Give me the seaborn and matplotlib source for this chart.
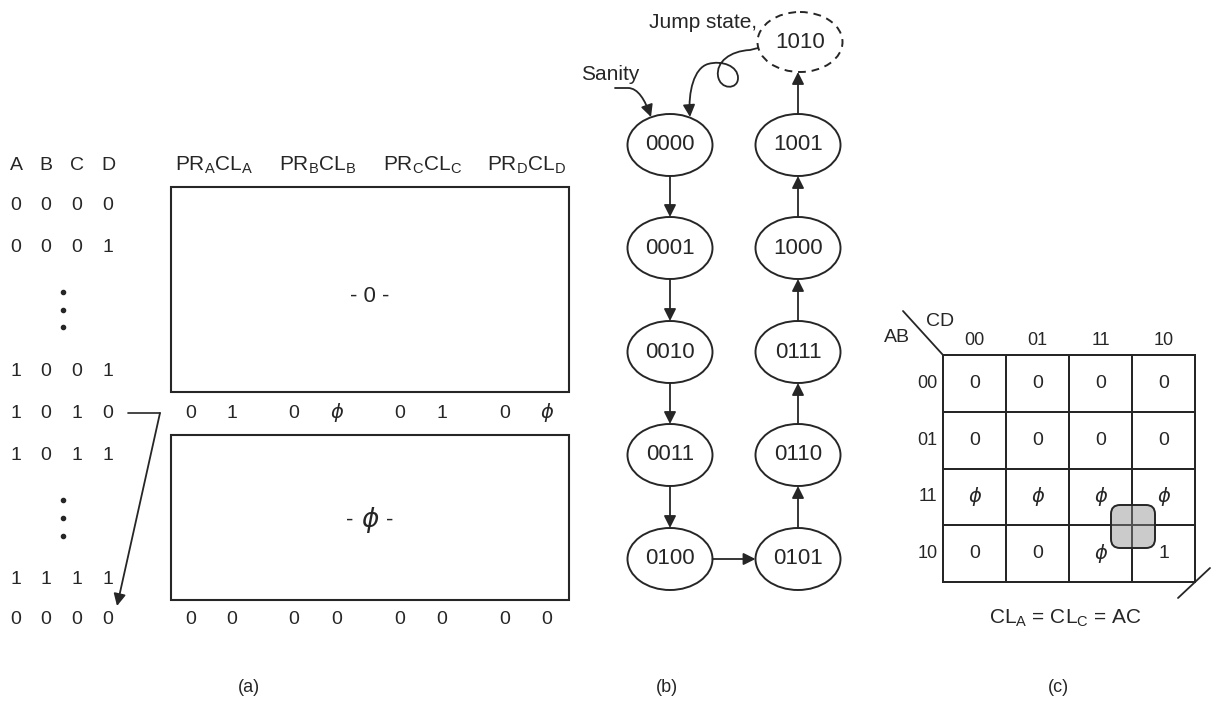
import numpy as np
import matplotlib.pyplot as plt
import seaborn as sns
from matplotlib.colors import ListedColormap
from matplotlib.patches import Rectangle, Ellipse, FancyBboxPatch, FancyArrowPatch
from matplotlib.path import Path

# ---- data ----
abcd_header = ["A", "B", "C", "D"]
abcd_rows_top = ["0000", "0001"]
abcd_rows_mid = ["1001", "1010", "1011"]
abcd_rows_bot = ["1111", "0000"]
ff_names = ["A", "B", "C", "D"]
row_1010_vals = ["0", "1", "0", "ϕ", "0", "1", "0", "ϕ"]
row_last_vals = ["0", "0", "0", "0", "0", "0", "0", "0"]
box_fill_top = "0"
box_fill_bot = "ϕ"

states_left = ["0000", "0001", "0010", "0011", "0100"]
states_right = ["1001", "1000", "0111", "0110", "0101"]
jump_state = "1010"

kmap_cols = ["00", "01", "11", "10"]
kmap_rows = ["00", "01", "11", "10"]
kmap_vals = [["0", "0", "0", "0"],
             ["0", "0", "0", "0"],
             ["ϕ", "ϕ", "ϕ", "ϕ"],
             ["0", "0", "ϕ", "1"]]

W, H = 1214, 701
INK = "#262626"

sns.set_theme(style="white")
plt.rcParams['font.family'] = ['Liberation Sans', 'DejaVu Sans']
plt.rcParams['mathtext.fontset'] = 'custom'
plt.rcParams['mathtext.rm'] = 'Liberation Sans'
plt.rcParams['mathtext.it'] = 'Liberation Sans:italic'

fig = plt.figure(figsize=(W / 100, H / 100), dpi=100)
ax = fig.add_axes([0, 0, 1, 1])
ax.set_xlim(0, W)
ax.set_ylim(H, 0)
ax.axis('off')


def txt(x, y, s, size=14, **kw):
    if s == "ϕ":
        kw.setdefault('family', ['DejaVu Sans'])
        kw.setdefault('style', 'italic')
    ax.text(x, y, s, ha='center', va='center', fontsize=size, color=INK, **kw)


def arrow(x1, y1, x2, y2):
    ax.annotate('', xy=(x2, y2), xytext=(x1, y1),
                arrowprops=dict(arrowstyle='-|>', color=INK, lw=1.3,
                                mutation_scale=18, shrinkA=0, shrinkB=0))


# ---- (a) truth table ----
col_x = [16, 46, 77, 108]
for x, s in zip(col_x, abcd_header):
    txt(x, 165, s)
for y, row in zip([205, 247], abcd_rows_top):
    for x, c in zip(col_x, row):
        txt(x, y, c)
for y, row in zip([372, 413, 455], abcd_rows_mid):
    for x, c in zip(col_x, row):
        txt(x, y, c)
for y, row in zip([580, 619], abcd_rows_bot):
    for x, c in zip(col_x, row):
        txt(x, y, c)
for y in [292, 310, 327, 500, 518, 536]:
    ax.plot(63, y, 'o', color=INK, ms=3)

ff_x = [214, 318, 423, 527]
for x, n in zip(ff_x, ff_names):
    txt(x, 165, r'PR$_{\rm %s}$CL$_{\rm %s}$' % (n, n), size=15)

ax.add_patch(Rectangle((171, 187), 398, 205, fill=False, ec=INK, lw=1.5))
ax.add_patch(Rectangle((171, 435), 398, 165, fill=False, ec=INK, lw=1.5))
txt(370, 297, "- " + box_fill_top + " -", size=16)
txt(350, 520, "-", size=16)
txt(370, 520, box_fill_bot, size=19)
txt(390, 520, "-", size=16)

pair_x = [191, 232, 294, 337, 400, 442, 505, 547]
for x, v in zip(pair_x, row_1010_vals):
    txt(x, 413, v)
for x, v in zip(pair_x, row_last_vals):
    txt(x, 619, v)

ax.plot([128, 160], [413, 413], color=INK, lw=1.2)
arrow(160, 413, 117, 606)

# ---- (b) state diagram ----
xl, xr = 670, 798
ys = [145, 248, 352, 455, 559]
ew, eh = 85, 62
for y, s in zip(ys, states_left):
    ax.add_patch(Ellipse((xl, y), ew, eh, fill=False, ec=INK, lw=1.4))
    txt(xl, y, s, size=16)
for y, s in zip(ys, states_right):
    ax.add_patch(Ellipse((xr, y), ew, eh, fill=False, ec=INK, lw=1.4))
    txt(xr, y, s, size=16)
for i in range(len(ys) - 1):
    arrow(xl, ys[i] + eh / 2, xl, ys[i + 1] - eh / 2)
    arrow(xr, ys[i + 1] - eh / 2, xr, ys[i] + eh / 2)
arrow(xl + ew / 2, ys[-1], xr - ew / 2, ys[-1])

jy = 42
ax.add_patch(Ellipse((xr + 2, jy), ew, 60, fill=False, ec=INK, lw=1.4,
                     ls=(0, (4, 3))))
txt(xr + 2, jy, jump_state, size=16)
arrow(xr, ys[0] - eh / 2, xr, jy + 30)
ax.text(757, 22, "Jump state,", ha='right', va='center', fontsize=15, color=INK)
ax.text(610, 75, "Sanity", ha='center', va='center', fontsize=15, color=INK)

sanity = Path([(615, 88), (628, 88), (638, 88), (645, 100), (651, 117)],
              [Path.MOVETO, Path.LINETO, Path.CURVE4, Path.CURVE4, Path.CURVE4])
ax.add_patch(FancyArrowPatch(path=sanity, arrowstyle='-|>', color=INK, lw=1.3,
                             mutation_scale=18))
jump = Path([(758, 48), (750, 50),
             (730, 51), (716, 62), (718, 76),
             (720, 90), (738, 90), (738, 78),
             (738, 66), (722, 60), (708, 64),
             (694, 68), (688, 92), (690, 117)],
            [Path.MOVETO, Path.LINETO] + [Path.CURVE4] * 12)
ax.add_patch(FancyArrowPatch(path=jump, arrowstyle='-|>', color=INK, lw=1.3,
                             mutation_scale=18))

# ---- (c) K-map ----
kx0, kx1, ky0, ky1 = 943, 1195, 355, 582
axk = fig.add_axes([kx0 / W, 1 - ky1 / H, (kx1 - kx0) / W, (ky1 - ky0) / H])
sns.heatmap(np.zeros((4, 4)), ax=axk, cmap=ListedColormap(['white']), cbar=False,
            linewidths=1.4, linecolor=INK, xticklabels=kmap_cols,
            yticklabels=kmap_rows)
axk.collections[0].set_clip_on(False)
axk.xaxis.tick_top()
axk.tick_params(length=0, labelsize=13, pad=4, colors=INK)
axk.set_yticklabels(kmap_rows, rotation=0)
for i, row in enumerate(kmap_vals):
    for j, v in enumerate(row):
        kw = dict(family=['DejaVu Sans'], style='italic') if v == "ϕ" else {}
        axk.text(j + 0.5, i + 0.5, v, ha='center', va='center', fontsize=14,
                 color=INK, **kw)
axk.add_patch(FancyBboxPatch((1111, 505), 44, 43,
                             boxstyle='round,pad=0,rounding_size=9',
                             transform=ax.transData, clip_on=False,
                             fc=(0.55, 0.55, 0.55, 0.45), ec=INK, lw=1.4))

ax.plot([903, 943], [311, 355], color=INK, lw=1.3)
txt(897, 338, "AB", size=14)
txt(940, 321, "CD", size=14)
ax.plot([1178, 1210], [598, 568], color=INK, lw=1.3)
txt(1065, 618, r'CL$_{\rm A}$ = CL$_{\rm C}$ = AC', size=15)

for x, s in zip([249, 667, 1058], ["(a)", "(b)", "(c)"]):
    txt(x, 688, s, size=13)

fig.savefig("out.png", dpi=100)
